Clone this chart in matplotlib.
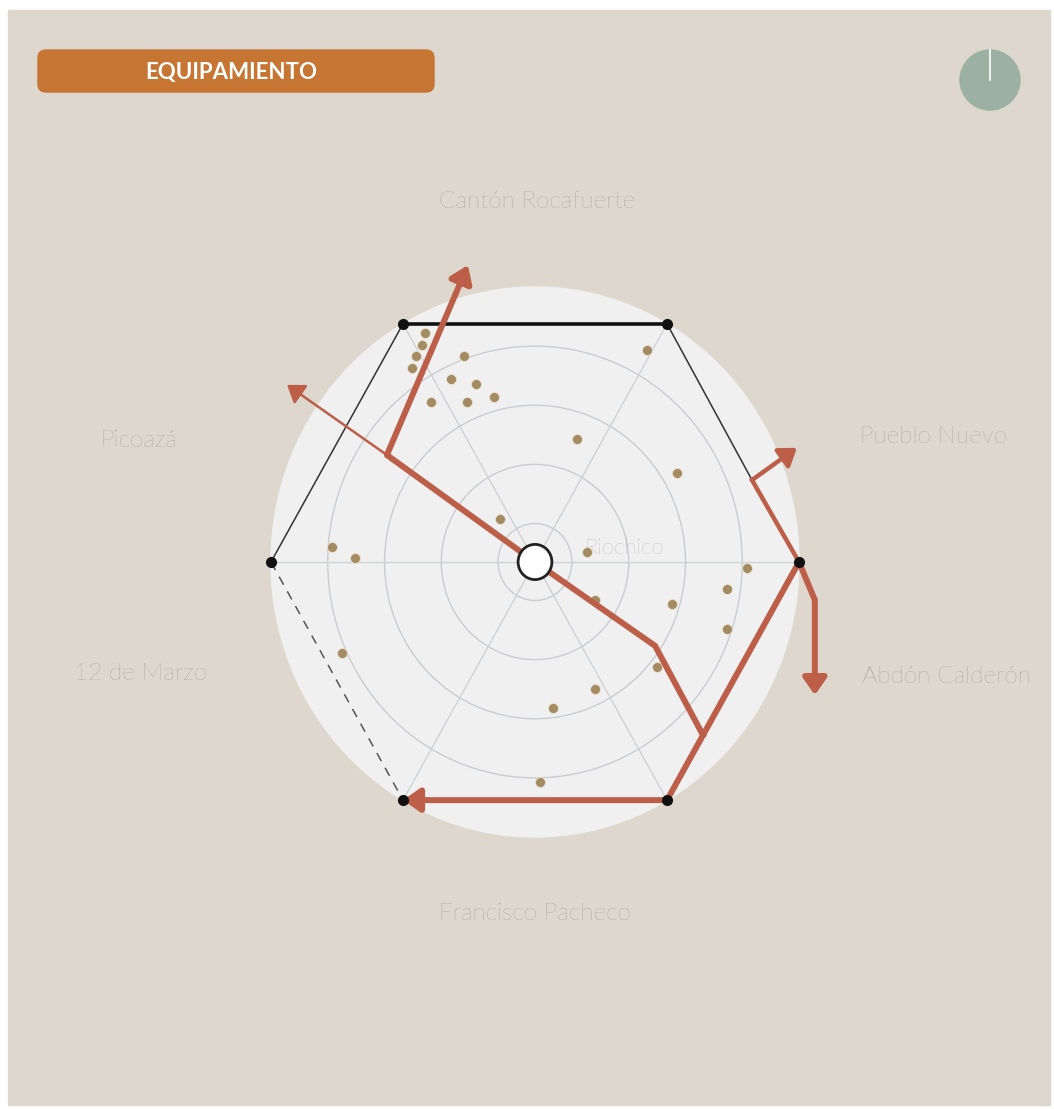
import numpy as np
import matplotlib
matplotlib.use('Agg')
from matplotlib import pyplot as plt
from matplotlib.patches import FancyBboxPatch, Circle, Rectangle

# etiquetas de las parroquias alrededor del hexagono
titulo = 'EQUIPAMIENTO'
centro = 'Riochico'
parroquias = ['Cantón Rocafuerte', 'Pueblo Nuevo', 'Abdón Calderón',
              'Francisco Pacheco', '12 de Marzo', 'Picoazá']
pos_parroquias = [(0.008, 1.31), (1.51, 0.455), (1.56, -0.415),
                  (0.0, -1.278), (-1.495, -0.404), (-1.50, 0.442)]

# anillos concentricos (radio 1 = borde del circulo)
anillos = [0.14, 0.355, 0.57, 0.785]
angulos_vertices = [60, 120, 180, 240, 300, 0]

# puntos de equipamiento
eq_x = [-0.417, -0.428, -0.451, -0.466, -0.269, -0.318, -0.223, -0.155,
        -0.394, -0.258, -0.133, -0.769, -0.682, -0.731, 0.424, 0.159,
        0.538, 0.197, 0.803, 0.727, 0.519, 0.227, 0.727, 0.462, 0.227,
        0.068, 0.019]
eq_y = [0.833, 0.789, 0.749, 0.705, 0.749, 0.665, 0.647, 0.600, 0.582,
        0.582, 0.156, 0.055, 0.015, -0.331, 0.771, 0.447, 0.324, 0.036,
        -0.022, -0.098, -0.153, -0.138, -0.244, -0.382, -0.462, -0.531,
        -0.800]

# recorridos (flechas)
ruta_norte_x = [0.0, -0.561, -0.254]
ruta_norte_y = [0.0, 0.389, 1.08]
ruta_noroeste_x = [-0.561, -0.939]
ruta_noroeste_y = [0.389, 0.644]
ruta_sur_x = [0.0, 0.455, 0.636]
ruta_sur_y = [0.0, -0.305, -0.629]
ruta_borde_x = [1.0, 0.5, -0.5]
ruta_borde_y = [0.0, -0.866, -0.866]
ruta_este_x = [0.822, 1.0]
ruta_este_y = [0.298, 0.0]
ruta_ne_x = [0.822, 0.992]
ruta_ne_y = [0.298, 0.415]
ruta_bajada_x = [1.0, 1.06, 1.06]
ruta_bajada_y = [0.0, -0.138, -0.484]

W, H = 1054, 1109
CX, CY = 535, 562
RX, RY = 264, 275
ROJO = '#bd5e48'
GRIS_TXT = '#8f8b85'
FUENTE = ['Lato', 'DejaVu Sans']

fig = plt.figure(figsize=(W / 100, H / 100), dpi=100)
fig.patch.set_facecolor('white')

# capa en pixeles: fondo, barra del titulo, reloj
axp = fig.add_axes([0, 0, 1, 1])
axp.set_xlim(0, W)
axp.set_ylim(H, 0)
axp.axis('off')
axp.add_patch(Rectangle((8, 10), W - 12, H - 14, color='#ddd7cd', zorder=0))
axp.add_patch(FancyBboxPatch((40, 52), 392, 38,
                             boxstyle='round,pad=2,rounding_size=8',
                             color='#c67632', zorder=2))
axp.text(231, 72, titulo, color='white', fontsize=16, fontweight='bold',
         family=FUENTE, ha='center', va='center', zorder=3)
axp.add_patch(Circle((990, 80), 30, color='#9cb1a3', zorder=2))
axp.plot([990, 990], [50, 80], color='white', lw=1.2, zorder=3)

# grafico radial en unidades del circulo
ax = fig.add_axes([0, 0, 1, 1])
ax.patch.set_alpha(0)
ax.set_xlim(-CX / RX, (W - CX) / RX)
ax.set_ylim(-(H - CY) / RY, CY / RY)
ax.axis('off')

ax.add_patch(Circle((0, 0), 1.0, color='#f0f0f0', zorder=1))
for r in anillos:
    ax.add_patch(Circle((0, 0), r, fill=False, ec='#c9ccd0', lw=1.0, zorder=2))

vx = [np.cos(np.radians(a)) for a in angulos_vertices]
vy = [np.sin(np.radians(a)) for a in angulos_vertices]
for x, y in zip(vx, vy):
    ax.plot([0, x], [0, y], color='#cfd2d5', lw=1.0, zorder=2)

# bordes del hexagono
ax.plot([vx[0], vx[1]], [vy[0], vy[1]], color='#111111', lw=2.6, zorder=4)
ax.plot([vx[1], vx[2]], [vy[1], vy[2]], color='#333333', lw=1.1, zorder=4)
ax.plot([vx[2], vx[3]], [vy[2], vy[3]], color='#555555', lw=1.1,
        ls=(0, (6, 5)), zorder=4)
ax.plot([vx[0], ruta_este_x[0]], [vy[0], ruta_este_y[0]], color='#333333',
        lw=1.1, zorder=4)

ax.plot(eq_x, eq_y, 'o', color='#a48b62', ms=7.2, mec='#e9e2d4', mew=0.6,
        zorder=5)


def flecha(xs, ys, lw):
    if len(xs) > 2:
        ax.plot(xs[:-1], ys[:-1], color=ROJO, lw=lw, solid_capstyle='butt',
                solid_joinstyle='miter', zorder=6)
    ax.annotate('', xy=(xs[-1], ys[-1]), xytext=(xs[-2], ys[-2]), zorder=6,
                arrowprops=dict(arrowstyle='-|>,head_length=0.5,head_width=0.35',
                                color=ROJO, lw=lw, shrinkA=0, shrinkB=0,
                                mutation_scale=20))


ax.plot(ruta_sur_x, ruta_sur_y, color=ROJO, lw=4.3, solid_joinstyle='miter',
        zorder=6)
ax.plot(ruta_este_x, ruta_este_y, color=ROJO, lw=3.2, zorder=6)
flecha(ruta_norte_x, ruta_norte_y, 4.3)
flecha(ruta_noroeste_x, ruta_noroeste_y, 1.8)
flecha(ruta_borde_x, ruta_borde_y, 4.3)
flecha(ruta_ne_x, ruta_ne_y, 3.2)
flecha(ruta_bajada_x, ruta_bajada_y, 4.3)

ax.plot(vx, vy, 'o', color='#111111', ms=7, zorder=8)
ax.add_patch(Circle((0, 0), 0.064, fc='white', ec='#222222', lw=2, zorder=9))

ax.text(0.338, 0.05, centro, color='#9a9a9a', fontsize=16, fontweight='light',
        family=FUENTE, ha='center', va='center', zorder=10)
for nombre, (px, py) in zip(parroquias, pos_parroquias):
    ax.text(px, py, nombre, color=GRIS_TXT, fontsize=17.5, fontweight='light',
            family=FUENTE, ha='center', va='center', zorder=10)

fig.savefig('out.png', dpi=100, facecolor=fig.get_facecolor())
